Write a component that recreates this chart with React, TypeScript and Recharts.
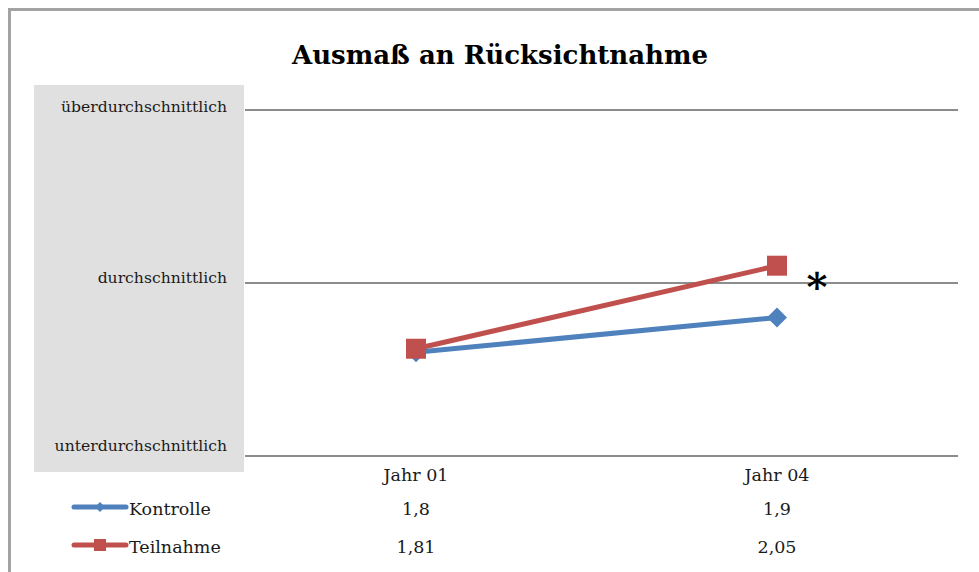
import React from 'react';
import { LineChart, Line, XAxis, YAxis, CartesianGrid, LabelList } from 'recharts';

const title = 'Ausmaß an Rücksichtnahme';
const categories = ['Jahr 01', 'Jahr 04'];
const kontrolle = [1.8, 1.9];
const teilnahme = [1.81, 2.05];
const seriesNames = ['Kontrolle', 'Teilnahme'];
const yTicks = [1.5, 2, 2.5];
const yTickLabels = ['unterdurchschnittlich', 'durchschnittlich', 'überdurchschnittlich'];
const significanceMark = '*';

const BLUE = '#4F81BD';
const RED = '#C0504D';
const FONT = '"DejaVu Serif", serif';
const TEXT = '#1a1a1a';

const data = categories.map((c, i) => ({ cat: c, Kontrolle: kontrolle[i], Teilnahme: teilnahme[i] }));
const seriesValues = [kontrolle, teilnahme];
const seriesColors = [BLUE, RED];

const fmt = (v: number) => String(v).replace('.', ',');

const Diamond = (cx: number, cy: number, r: number, color: string) => (
  <path d={`M${cx} ${cy - r} L${cx + r} ${cy} L${cx} ${cy + r} L${cx - r} ${cy} Z`} fill={color} />
);
const Square = (cx: number, cy: number, r: number, color: string) => (
  <rect x={cx - r} y={cy - r} width={2 * r} height={2 * r} fill={color} />
);

const YTick = (props: any) => {
  const { x, y, payload } = props;
  const i = yTicks.indexOf(payload.value);
  const off = [-10, -5, -3][i] ?? -4;
  return (
    <text x={x} y={y + off} textAnchor="end" dominantBaseline="central" fontFamily={FONT} fontSize={15.6} fill={TEXT}>
      {yTickLabels[i]}
    </text>
  );
};

const XTick = (props: any) => {
  const { x, y, payload } = props;
  const i = categories.indexOf(payload.value);
  const rowY = [y + 19, y + 53, y + 91];
  return (
    <g>
      <text x={x} y={rowY[0]} textAnchor="middle" dominantBaseline="central" fontFamily={FONT} fontSize={17.5} fill={TEXT}>
        {payload.value}
      </text>
      {seriesValues.map((vals, s) => (
        <text key={s} x={x} y={rowY[s + 1]} textAnchor="middle" dominantBaseline="central" fontFamily={FONT} fontSize={17.5} fill={TEXT}>
          {fmt(vals[i])}
        </text>
      ))}
      {i === 0 &&
        seriesNames.map((name, s) => (
          <g key={name}>
            <line x1={74} x2={126} y1={rowY[s + 1] - 2} y2={rowY[s + 1] - 2} stroke={seriesColors[s]} strokeWidth={5} strokeLinecap="round" />
            {s === 0 ? Diamond(100, rowY[s + 1] - 2, 5, seriesColors[s]) : Square(100, rowY[s + 1] - 2, 6, seriesColors[s])}
            <text x={129} y={rowY[s + 1]} textAnchor="start" dominantBaseline="central" fontFamily={FONT} fontSize={17.5} fill={TEXT}>
              {name}
            </text>
          </g>
        ))}
    </g>
  );
};

const Star = (props: any) => {
  const { x, y, index } = props;
  if (index !== categories.length - 1) return null;
  return (
    <text x={x + 40} y={y + 21} textAnchor="middle" dominantBaseline="central" fontFamily={FONT} fontWeight="bold" fontSize={40} fill="#000">
      {significanceMark}
    </text>
  );
};

export default function App() {
  return (
    <div style={{ position: 'absolute', left: 0, top: 0, width: 979, height: 572, overflow: 'hidden', background: '#fff' }}>
      <div style={{ position: 'absolute', left: 8, top: 8, width: 1000, height: 600, borderLeft: '3px solid #a3a3a3', borderTop: '3px solid #a3a3a3' }} />
      <div style={{ position: 'absolute', left: 34, top: 85, width: 210, height: 387, background: '#e0e0e0' }} />
      <div style={{ position: 'absolute', left: 0, top: 40, width: 1000, textAlign: 'center', fontFamily: FONT, fontWeight: 'bold', fontSize: 26, color: '#000' }}>
        {title}
      </div>
      <div style={{ position: 'absolute', left: 0, top: 0 }}>
        <LineChart width={979} height={572} data={data} margin={{ top: 110, right: 21, bottom: 0, left: 0 }}>
          <CartesianGrid vertical={false} stroke="#8c8c8c" strokeWidth={2} />
          <XAxis
            dataKey="cat"
            height={116}
            axisLine={false}
            tickLine={false}
            tickSize={0}
            tickMargin={0}
            padding={{ left: 171, right: 181 }}
            tick={<XTick />}
            interval={0}
          />
          <YAxis
            type="number"
            domain={[1.5, 2.5]}
            ticks={yTicks}
            width={245}
            axisLine={false}
            tickLine={false}
            tickSize={0}
            tickMargin={18}
            tick={<YTick />}
            interval={0}
          />
          <Line
            dataKey="Kontrolle"
            stroke={BLUE}
            strokeWidth={5}
            isAnimationActive={false}
            dot={(p: any) => <g key={`k${p.index}`}>{Diamond(p.cx, p.cy, 10, BLUE)}</g>}
            activeDot={false}
          />
          <Line
            dataKey="Teilnahme"
            stroke={RED}
            strokeWidth={5}
            isAnimationActive={false}
            dot={(p: any) => <g key={`t${p.index}`}>{Square(p.cx, p.cy, 10, RED)}</g>}
            activeDot={false}
          >
            <LabelList dataKey="Teilnahme" content={<Star />} />
          </Line>
        </LineChart>
      </div>
    </div>
  );
}
